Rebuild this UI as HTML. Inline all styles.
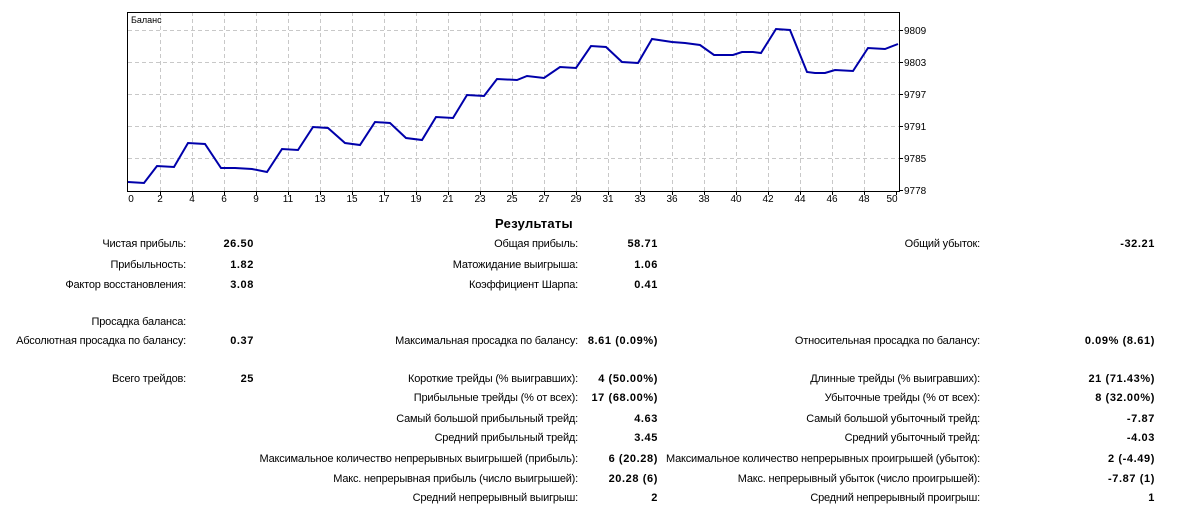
<!DOCTYPE html>
<html><head><meta charset="utf-8"><style>
body{margin:0;width:1191px;height:518px;background:#fff;position:relative;overflow:hidden;font-family:"Liberation Sans",sans-serif;font-size:11px;color:#000}
.t{position:absolute;line-height:14px;white-space:nowrap;text-align:right;letter-spacing:-0.2px}
.b{font-weight:bold;font-size:11px;letter-spacing:0.6px}
svg text{font-family:"Liberation Sans",sans-serif;font-size:10px}
</style></head><body>
<svg width="1191" height="210" style="position:absolute;left:0;top:0">
<g stroke="#c8c8c8" stroke-dasharray="4,3" stroke-width="1">
<line x1="128" y1="30.5" x2="899" y2="30.5"/><line x1="128" y1="62.5" x2="899" y2="62.5"/><line x1="128" y1="94.5" x2="899" y2="94.5"/><line x1="128" y1="126.5" x2="899" y2="126.5"/><line x1="128" y1="158.5" x2="899" y2="158.5"/>
</g>
<g stroke="#c8c8c8" stroke-dasharray="4,3">
<path d="M160.5 12V191M192.5 12V191M224.5 12V191M256.5 12V191M288.5 12V191M320.5 12V191M352.5 12V191M384.5 12V191M416.5 12V191M448.5 12V191M480.5 12V191M512.5 12V191M544.5 12V191M576.5 12V191M608.5 12V191M640.5 12V191M672.5 12V191M704.5 12V191M736.5 12V191M768.5 12V191M800.5 12V191M832.5 12V191M864.5 12V191"/>
</g>
<rect x="127.5" y="12.5" width="772" height="179" fill="none" stroke="#000"/>
<path d="M160.5 192v3M192.5 192v3M224.5 192v3M256.5 192v3M288.5 192v3M320.5 192v3M352.5 192v3M384.5 192v3M416.5 192v3M448.5 192v3M480.5 192v3M512.5 192v3M544.5 192v3M576.5 192v3M608.5 192v3M640.5 192v3M672.5 192v3M704.5 192v3M736.5 192v3M768.5 192v3M800.5 192v3M832.5 192v3M864.5 192v3M896.5 192v3M900 30.5h3M900 62.5h3M900 94.5h3M900 126.5h3M900 158.5h3M900 190.5h3" stroke="#000"/>
<polyline fill="none" stroke="#0000aa" stroke-width="2" points="128,182 144,183 157,166 174,167 188,143 205,144 221,168 235,168 252,169 267,172 282,149 298,150 313,127 328,128 345,143 360,145 375,122 390,123 406,138 422,140 436,117 453,118 467,95 484,96 497,79 517,80 527,76 544,78 560,67 576,68 591,46 606,47 622,62 638,63 652,39 672,42 685,43 700,45 714,55 733,55 742,52 753,52 761,53 776,29 790,30 807,72 815,73 825,73 835,70 853,71 868,48 885,49 898,44"/>
<text x="131" y="23" style="font-size:9px">Баланс</text>
<g text-anchor="start">
<text x="904" y="34">9809</text><text x="904" y="66">9803</text><text x="904" y="98">9797</text><text x="904" y="130">9791</text><text x="904" y="162">9785</text><text x="904" y="194">9778</text>
</g>
<g text-anchor="middle">
<text x="131" y="202">0</text><text x="160" y="202">2</text><text x="192" y="202">4</text><text x="224" y="202">6</text><text x="256" y="202">9</text><text x="288" y="202">11</text><text x="320" y="202">13</text><text x="352" y="202">15</text><text x="384" y="202">17</text><text x="416" y="202">19</text><text x="448" y="202">21</text><text x="480" y="202">23</text><text x="512" y="202">25</text><text x="544" y="202">27</text><text x="576" y="202">29</text><text x="608" y="202">31</text><text x="640" y="202">33</text><text x="672" y="202">36</text><text x="704" y="202">38</text><text x="736" y="202">40</text><text x="768" y="202">42</text><text x="800" y="202">44</text><text x="832" y="202">46</text><text x="864" y="202">48</text><text x="892" y="202">50</text>
</g>
</svg>
<div class="t b" style="left:434px;width:200px;text-align:center;top:216px;font-size:13px;line-height:16px;letter-spacing:0.3px">Результаты</div>

<div class="t" style="right:1005px;top:237px">Чистая прибыль:</div><div class="t b" style="right:937px;top:237px">26.50</div>
<div class="t" style="right:613px;top:237px">Общая прибыль:</div><div class="t b" style="right:533px;top:237px">58.71</div>
<div class="t" style="right:211px;top:237px">Общий убыток:</div><div class="t b" style="right:36px;top:237px">-32.21</div>

<div class="t" style="right:1005px;top:258px">Прибыльность:</div><div class="t b" style="right:937px;top:258px">1.82</div>
<div class="t" style="right:613px;top:258px">Матожидание выигрыша:</div><div class="t b" style="right:533px;top:258px">1.06</div>

<div class="t" style="right:1005px;top:278px">Фактор восстановления:</div><div class="t b" style="right:937px;top:278px">3.08</div>
<div class="t" style="right:613px;top:278px">Коэффициент Шарпа:</div><div class="t b" style="right:533px;top:278px">0.41</div>

<div class="t" style="right:1005px;top:315px">Просадка баланса:</div>

<div class="t" style="right:1005px;top:334px">Абсолютная просадка по балансу:</div><div class="t b" style="right:937px;top:334px">0.37</div>
<div class="t" style="right:613px;top:334px">Максимальная просадка по балансу:</div><div class="t b" style="right:533px;top:334px">8.61 (0.09%)</div>
<div class="t" style="right:211px;top:334px">Относительная просадка по балансу:</div><div class="t b" style="right:36px;top:334px">0.09% (8.61)</div>

<div class="t" style="right:1005px;top:372px">Всего трейдов:</div><div class="t b" style="right:937px;top:372px">25</div>
<div class="t" style="right:613px;top:372px">Короткие трейды (% выигравших):</div><div class="t b" style="right:533px;top:372px">4 (50.00%)</div>
<div class="t" style="right:211px;top:372px">Длинные трейды (% выигравших):</div><div class="t b" style="right:36px;top:372px">21 (71.43%)</div>

<div class="t" style="right:613px;top:391px">Прибыльные трейды (% от всех):</div><div class="t b" style="right:533px;top:391px">17 (68.00%)</div>
<div class="t" style="right:211px;top:391px">Убыточные трейды (% от всех):</div><div class="t b" style="right:36px;top:391px">8 (32.00%)</div>

<div class="t" style="right:613px;top:412px">Самый большой прибыльный трейд:</div><div class="t b" style="right:533px;top:412px">4.63</div>
<div class="t" style="right:211px;top:412px">Самый большой убыточный трейд:</div><div class="t b" style="right:36px;top:412px">-7.87</div>

<div class="t" style="right:613px;top:431px">Средний прибыльный трейд:</div><div class="t b" style="right:533px;top:431px">3.45</div>
<div class="t" style="right:211px;top:431px">Средний убыточный трейд:</div><div class="t b" style="right:36px;top:431px">-4.03</div>

<div class="t" style="right:613px;top:452px">Максимальное количество непрерывных выигрышей (прибыль):</div><div class="t b" style="right:533px;top:452px">6 (20.28)</div>
<div class="t" style="right:211px;top:452px">Максимальное количество непрерывных проигрышей (убыток):</div><div class="t b" style="right:36px;top:452px">2 (-4.49)</div>

<div class="t" style="right:613px;top:472px">Макс. непрерывная прибыль (число выигрышей):</div><div class="t b" style="right:533px;top:472px">20.28 (6)</div>
<div class="t" style="right:211px;top:472px">Макс. непрерывный убыток (число проигрышей):</div><div class="t b" style="right:36px;top:472px">-7.87 (1)</div>

<div class="t" style="right:613px;top:491px">Средний непрерывный выигрыш:</div><div class="t b" style="right:533px;top:491px">2</div>
<div class="t" style="right:211px;top:491px">Средний непрерывный проигрыш:</div><div class="t b" style="right:36px;top:491px">1</div>
</body></html>
